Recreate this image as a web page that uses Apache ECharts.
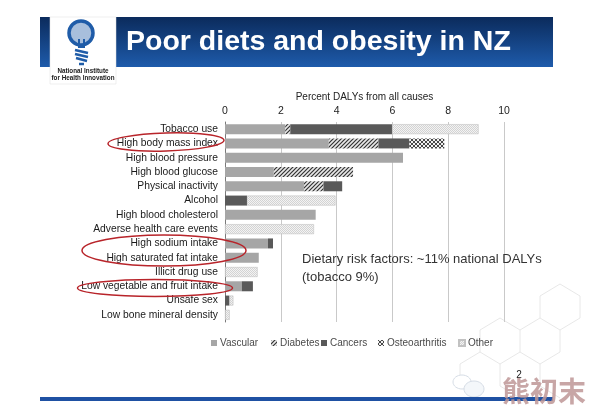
<!DOCTYPE html>
<html><head><meta charset="utf-8">
<script src="https://cdn.jsdelivr.net/npm/echarts@6/dist/echarts.min.js"></script>
<style>html,body{margin:0;padding:0;background:#fff}#c{width:594px;height:418px}</style>
</head><body><div id="c"></div>
<script>
const categories = ['Tobacco use','High body mass index','High blood pressure','High blood glucose','Physical inactivity','Alcohol','High blood cholesterol','Adverse health care events','High sodium intake','High saturated fat intake','Illicit drug use','Low vegetable and fruit intake','Unsafe sex','Low bone mineral density'];
const vascular = [2.16, 3.72, 6.38, 1.75, 2.83, 0, 3.25, 0, 1.54, 1.21, 0, 0.6, 0, 0];
const diabetes = [0.18, 1.78, 0, 2.84, 0.70, 0, 0, 0, 0, 0, 0, 0, 0, 0];
const cancers = [3.65, 1.11, 0, 0, 0.67, 0.79, 0, 0, 0.18, 0, 0, 0.4, 0.16, 0];
const osteoarthritis = [0, 1.25, 0, 0, 0, 0, 0, 0, 0, 0, 0, 0, 0, 0];
const other = [3.1, 0, 0, 0, 0, 3.17, 0, 3.19, 0, 0, 1.17, 0, 0.14, 0.17];
const xTicks = [0, 2, 4, 6, 8, 10];
const seriesNames = ['Vascular','Diabetes','Cancers','Osteoarthritis','Other'];

function pat(w, h, draw) {
  const c = document.createElement('canvas'); c.width = w; c.height = h;
  const g = c.getContext('2d'); draw(g, w, h); return {image: c, repeat: 'repeat'};
}
const diabetesPat = pat(4, 4, (g) => {
  g.fillStyle = '#e8e8e8'; g.fillRect(0,0,4,4);
  g.strokeStyle = '#333333'; g.lineWidth = 1.2;
  g.beginPath(); g.moveTo(-1,5); g.lineTo(5,-1); g.moveTo(-1,1); g.lineTo(1,-1); g.moveTo(3,5); g.lineTo(5,3); g.stroke();
});
const osteoPat = pat(4, 4, (g) => {
  g.fillStyle = '#f0f0f0'; g.fillRect(0,0,4,4);
  g.strokeStyle = '#333333'; g.lineWidth = 0.9;
  g.beginPath(); g.moveTo(-1,5); g.lineTo(5,-1); g.moveTo(-1,-1); g.lineTo(5,5);
  g.moveTo(-1,1); g.lineTo(1,-1); g.moveTo(3,5); g.lineTo(5,3);
  g.moveTo(3,-1); g.lineTo(5,1); g.moveTo(-1,3); g.lineTo(1,5); g.stroke();
});
const otherPat = pat(2, 2, (g) => {
  g.fillStyle = '#f3f3f3'; g.fillRect(0,0,2,2);
  g.fillStyle = '#d3d3d3'; g.fillRect(0,0,1,1); g.fillRect(1,1,1,1);
});
const fills = ['#a6a6a6', diabetesPat, '#595959', osteoPat, otherPat];
const dataSets = [vascular, diabetes, cancers, osteoarthritis, other];

const chart = echarts.init(document.getElementById('c'), null, {renderer: 'canvas'});
const FONT = '"Liberation Sans", Arial, sans-serif';

const legendLefts = [211, 271, 321, 378, 458];
const legends = seriesNames.map((n, i) => ({
  data: [n], left: legendLefts[i], top: 338, itemWidth: 6, itemHeight: 6, itemGap: 0, padding: 0,
  icon: 'rect', textStyle: {fontSize: 10, color: '#4a4a4a', fontFamily: FONT, padding: [0,0,0,-2]},
  selectedMode: false
}));

const hex = (pts) => ({type: 'polyline', shape: {points: pts}, style: {stroke: '#e2e2e2', lineWidth: 0.8, fill: null}, z: 0});

const graphics = [
  // banner
  {type: 'rect', shape: {x: 40, y: 17, width: 513, height: 50}, style: {fill: new echarts.graphic.LinearGradient(0,0,0,1,[{offset:0,color:'#0b2b5c'},{offset:1,color:'#1e5bab'}])}, z: 0},
  {type: 'text', style: {text: 'Poor diets and obesity in NZ', x: 126, y: 42, fill: '#ffffff', font: 'bold 28.5px ' + FONT, verticalAlign: 'middle'}, z: 2},
  // logo box
  {type: 'rect', shape: {x: 50, y: 17, width: 66, height: 67}, style: {fill: '#ffffff', stroke: '#dddddd', lineWidth: 0.5}, z: 1},
  {type: 'circle', shape: {cx: 81, cy: 33, r: 12}, style: {fill: '#a8bfdc', stroke: '#1f5ca8', lineWidth: 3.5}, z: 2},
  {type: 'polyline', shape: {points: [[79,39],[79,47],[84,47],[84,39]]}, style: {stroke: '#1f5ca8', lineWidth: 2, fill: null}, z: 3},
  {type: 'line', shape: {x1: 75, y1: 50, x2: 88, y2: 53}, style: {stroke: '#1f5ca8', lineWidth: 2.5}, z: 2},
  {type: 'line', shape: {x1: 75, y1: 54, x2: 88, y2: 57}, style: {stroke: '#1f5ca8', lineWidth: 2.5}, z: 2},
  {type: 'line', shape: {x1: 76, y1: 58, x2: 87, y2: 61}, style: {stroke: '#1f5ca8', lineWidth: 2.5}, z: 2},
  {type: 'line', shape: {x1: 79, y1: 64, x2: 84, y2: 64}, style: {stroke: '#1f5ca8', lineWidth: 2.5}, z: 2},
  {type: 'text', style: {text: 'National Institute', x: 83, y: 71, fill: '#1a1a1a', font: 'bold 6.3px ' + FONT, align: 'center', verticalAlign: 'middle'}, z: 2},
  {type: 'text', style: {text: 'for Health Innovation', x: 83, y: 78.5, fill: '#1a1a1a', font: 'bold 6.3px ' + FONT, align: 'center', verticalAlign: 'middle'}, z: 2},
  // annotation
  {type: 'text', style: {text: 'Dietary risk factors: ~11% national DALYs\n(tobacco 9%)', x: 302, y: 251, fill: '#333333', font: '13px ' + FONT, lineHeight: 17.5}, z: 5},
  // ellipses
  {type: 'ellipse', shape: {cx: 166, cy: 142, rx: 58, ry: 9}, rotation: 0.03, originX: 166, originY: 142, style: {fill: null, stroke: '#b8242a', lineWidth: 1.5}, z: 6},
  {type: 'ellipse', shape: {cx: 164, cy: 250.5, rx: 82, ry: 15.5}, style: {fill: null, stroke: '#b8242a', lineWidth: 1.5}, z: 6},
  {type: 'ellipse', shape: {cx: 155, cy: 288, rx: 77.5, ry: 8.5}, style: {fill: null, stroke: '#b8242a', lineWidth: 1.5}, z: 6},
  // decorative lines bottom right
  hex([[480,330],[500,318],[520,330],[520,352],[500,364],[480,352],[480,330]]),
  hex([[520,330],[540,318],[560,330],[560,352],[540,364],[520,352]]),
  hex([[500,364],[500,386],[520,398]]),
  hex([[540,364],[540,386],[560,398]]),
  hex([[560,330],[580,318],[580,296],[560,284],[540,296],[540,318]]),
  hex([[480,352],[460,364],[460,386]]),
  // wechat-like faint bubbles
  {type: 'ellipse', shape: {cx: 462, cy: 382, rx: 9, ry: 7}, style: {fill: '#ffffff', stroke: '#d6dde6', lineWidth: 1}, z: 1},
  {type: 'ellipse', shape: {cx: 474, cy: 389, rx: 10, ry: 8}, style: {fill: '#f4f7fa', stroke: '#d6dde6', lineWidth: 1}, z: 1},
  // bottom line
  {type: 'rect', shape: {x: 40, y: 397, width: 513, height: 4}, style: {fill: '#1f51a3'}, z: 1},
  {type: 'text', style: {text: '2', x: 519, y: 375, fill: '#222222', font: '10px ' + FONT, align: 'center', verticalAlign: 'middle'}, z: 8},
  // watermark
  {type: 'text', style: {text: '熊初末', x: 544, y: 391, fill: 'rgba(190,150,150,0.85)', font: 'bold 28px "Noto Sans CJK SC", sans-serif', align: 'center', verticalAlign: 'middle'}, z: 7}
];

const option = {
  animation: false,
  backgroundColor: '#ffffff',
  textStyle: {fontFamily: FONT},
  legend: legends,
  grid: {left: 225, right: 90, top: 122, bottom: 96, containLabel: false},
  xAxis: {
    type: 'value', position: 'top', min: xTicks[0], max: xTicks[xTicks.length-1], interval: 2,
    name: 'Percent DALYs from all causes', nameLocation: 'middle', nameGap: 20,
    nameTextStyle: {fontSize: 10, color: '#222222', fontFamily: FONT},
    axisLine: {show: false}, axisTick: {show: false},
    axisLabel: {fontSize: 10.5, color: '#222222', margin: 5, fontFamily: FONT},
    splitLine: {show: true, lineStyle: {color: '#c9c9c9', width: 1}}
  },
  yAxis: {
    type: 'category', data: categories, inverse: true,
    axisLine: {show: true, lineStyle: {color: '#7a7a7a', width: 1}},
    axisTick: {show: false},
    axisLabel: {fontSize: 10.3, color: '#1a1a1a', margin: 7, fontFamily: FONT}
  },
  series: seriesNames.map((n, i) => ({
    name: n, type: 'bar', stack: 'total', barWidth: 10,
    data: dataSets[i].map(v => v === 0 ? null : v),
    itemStyle: {color: fills[i], borderColor: i === 4 ? '#c2c2c2' : null, borderWidth: i === 4 ? 0.6 : 0},
    emphasis: {disabled: true}
  })),
  graphic: graphics
};
chart.setOption(option);
</script>
</body></html>
